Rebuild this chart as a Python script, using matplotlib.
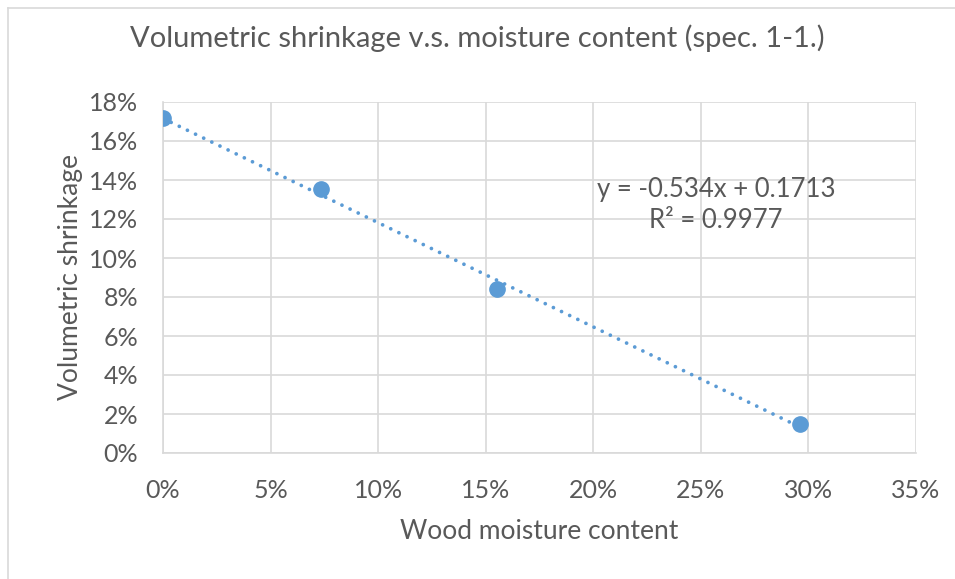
import matplotlib
matplotlib.use("Agg")
import matplotlib.pyplot as plt
from matplotlib.ticker import PercentFormatter, MultipleLocator
from matplotlib.lines import Line2D
import numpy as np

plt.rcParams['font.family'] = ['Lato', 'DejaVu Sans']

title = "Volumetric shrinkage v.s. moisture content (spec. 1-1.)"
x_label = "Wood moisture content"
y_label = "Volumetric shrinkage"
moisture = [0.0, 0.0733, 0.1552, 0.2960]
shrinkage = [0.1716, 0.1352, 0.0841, 0.0150]
eq_text = "y = -0.534x + 0.1713\nR² = 0.9977"

blue = "#5B9BD5"
txt = "#595959"
grid = "#D9D9D9"

fig = plt.figure(figsize=(9.55, 5.79), dpi=100)
ax = fig.add_axes([163/955, 1-453/579, (916-163)/955, (453-102)/579])

# trendline from least squares fit
coef = np.polyfit(moisture, shrinkage, 1)
xs = np.linspace(min(moisture), max(moisture), 100)
ax.plot(xs, np.polyval(coef, xs), linestyle=(0, (0.01, 2.4)), color=blue, lw=2.7,
        dash_capstyle='round', zorder=3)
ax.plot(moisture, shrinkage, 'o', color=blue, markersize=11, zorder=4)

ax.set_xlim(0, 0.35)
ax.set_ylim(0, 0.18)
ax.xaxis.set_major_locator(MultipleLocator(0.05))
ax.yaxis.set_major_locator(MultipleLocator(0.02))
ax.xaxis.set_major_formatter(PercentFormatter(1.0, decimals=0))
ax.yaxis.set_major_formatter(PercentFormatter(1.0, decimals=0))
ax.grid(True, color=grid, lw=1.2)
ax.set_axisbelow(True)
for s in ['top', 'right']:
    ax.spines[s].set_visible(False)
for s in ['left', 'bottom']:
    ax.spines[s].set_color(grid)
    ax.spines[s].set_linewidth(1.2)
ax.tick_params(length=0, labelsize=18, colors=txt)
ax.tick_params(axis='x', pad=19)
ax.tick_params(axis='y', pad=18)

ax.set_xlabel(x_label, fontsize=19, color=txt, labelpad=12)
ax.set_ylabel(y_label, fontsize=19, color=txt, labelpad=4)
fig.text(0.5, 1-38/579, title, ha='center', va='center', fontsize=21, color=txt)

ax.text((716-163)/(916-163), (453-205)/(453-102), eq_text, transform=ax.transAxes,
        ha='center', va='center', fontsize=18.5, color=txt, linespacing=1.25)

# outer chart border
fig.add_artist(Line2D([8/955, 1], [1-8/579, 1-8/579], transform=fig.transFigure, color=grid, lw=1.2))
fig.add_artist(Line2D([8/955, 8/955], [0, 1-8/579], transform=fig.transFigure, color=grid, lw=1.2))

fig.savefig("out.png", dpi=100, facecolor='white')
